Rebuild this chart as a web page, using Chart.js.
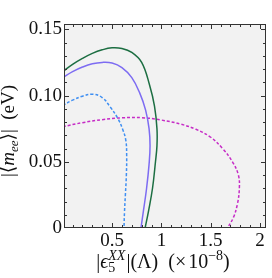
<!DOCTYPE html>
<html>
<head>
<meta charset="utf-8">
<script src="https://cdn.jsdelivr.net/npm/chart.js@4.4.1/dist/chart.umd.min.js"></script>
<style>
  html, body { margin: 0; padding: 0; background: #fff; }
</style>
</head>
<body>
<canvas id="chart" width="272" height="278"></canvas>
<script>
// tick labels
const xTicks = [0.5, 1, 1.5, 2];
const yTicks = [0, 0.05, 0.1, 0.15];

// curves (x in units of 1e-8, y in eV)
const greenX = [0, 0.1, 0.2, 0.3, 0.4, 0.5, 0.6, 0.7, 0.8, 0.88, 0.93, 0.955, 0.955, 0.94, 0.91, 0.87, 0.835];
const greenY = [0.118, 0.1235, 0.128, 0.1318, 0.1345, 0.136, 0.1355, 0.1325, 0.125, 0.108, 0.092, 0.075, 0.062, 0.05, 0.03, 0.013, 0];

const purpleX = [0, 0.1, 0.2, 0.3, 0.4, 0.5, 0.6, 0.7, 0.78, 0.84, 0.875, 0.885, 0.875, 0.85, 0.82, 0.793];
const purpleY = [0.1135, 0.118, 0.1215, 0.124, 0.125, 0.1245, 0.121, 0.1135, 0.102, 0.089, 0.075, 0.062, 0.048, 0.03, 0.014, 0];

const blueX = [0, 0.1, 0.2, 0.3, 0.4, 0.48, 0.56, 0.61, 0.64, 0.648, 0.645, 0.635, 0.626, 0.621];
const blueY = [0.0925, 0.0965, 0.0995, 0.101, 0.0985, 0.0915, 0.0825, 0.074, 0.066, 0.055, 0.04, 0.025, 0.012, 0];

const magentaX = [0, 0.2, 0.4, 0.6, 0.8, 1.0, 1.2, 1.35, 1.5, 1.62, 1.72, 1.78, 1.79, 1.77, 1.73, 1.67];
const magentaY = [0.0765, 0.0795, 0.0818, 0.0832, 0.0833, 0.0815, 0.0783, 0.0745, 0.0685, 0.06, 0.05, 0.04, 0.03, 0.018, 0.008, 0];

const SERIF = "'Liberation Serif', 'DejaVu Serif', serif";

const pts = (xs, ys) => xs.map((x, i) => ({ x: x, y: ys[i] }));

// draws a row of text pieces, sub/sup stacks included, centred on x
function richText(ctx, pieces, cx, y) {
  const fontOf = (p) => (p.it ? "italic " : "") + p.size + "px " + SERIF;
  let total = 0;
  const widths = pieces.map((p) => {
    let w = 0;
    if (p.stack) {
      p.stack.forEach((q) => {
        ctx.font = fontOf(q);
        w = Math.max(w, ctx.measureText(q.t).width);
      });
    } else {
      ctx.font = fontOf(p);
      w = ctx.measureText(p.t).width;
    }
    total += w + (p.gap || 0);
    return w;
  });
  let x = cx - total / 2;
  pieces.forEach((p, i) => {
    const list = p.stack || [p];
    list.forEach((q) => {
      ctx.font = fontOf(q);
      ctx.fillText(q.t, x, y + (q.dy || 0));
    });
    x += widths[i] + (p.gap || 0);
  });
}

const framePlugin = {
  id: "framePlugin",
  beforeDraw(chart) {
    const { ctx, chartArea: a } = chart;
    ctx.save();
    ctx.fillStyle = "#f2f2f2";
    ctx.fillRect(a.left, a.top, a.right - a.left, a.bottom - a.top);
    ctx.restore();
  },
  afterDraw(chart) {
    const { ctx, chartArea: a } = chart;
    const sx = chart.scales.x;
    const sy = chart.scales.y;
    ctx.save();
    ctx.strokeStyle = "#333";
    ctx.lineWidth = 1;
    ctx.strokeRect(Math.round(a.left) + 0.5, Math.round(a.top) + 0.5,
      Math.round(a.right - a.left) - 1, Math.round(a.bottom - a.top) - 1);

    // inward ticks on all four sides
    ctx.beginPath();
    for (let i = 1; i <= 20; i++) {
      const px = Math.round(sx.getPixelForValue(i / 10)) + 0.5;
      const len = i % 5 === 0 ? 5 : 3;
      ctx.moveTo(px, a.bottom);
      ctx.lineTo(px, a.bottom - len);
      ctx.moveTo(px, a.top);
      ctx.lineTo(px, a.top + len);
    }
    for (let i = 1; i <= 15; i++) {
      const py = Math.round(sy.getPixelForValue(i / 100)) + 0.5;
      const len = i % 5 === 0 ? 5 : 3;
      ctx.moveTo(a.left, py);
      ctx.lineTo(a.left + len, py);
      ctx.moveTo(a.right, py);
      ctx.lineTo(a.right - len, py);
    }
    ctx.stroke();

    // axis titles
    ctx.fillStyle = "#111";
    ctx.textBaseline = "alphabetic";
    ctx.textAlign = "left";
    richText(ctx, [
      { t: "|", size: 20 },
      { t: "\u03f5", size: 20, it: true },
      { stack: [{ t: "5", size: 14, dy: 4 }, { t: "XX", size: 14, it: true, dy: -8 }], gap: 1 },
      { t: "|(\u039b)", size: 20, gap: 10 },
      { t: "(\u00d7", size: 20, gap: 2 },
      { t: "10", size: 20 },
      { t: "\u22128", size: 14, dy: -8 },
      { t: ")", size: 20 }
    ], (a.left + a.right) / 2 - 2, 268);

    ctx.translate(14, (a.top + a.bottom) / 2 + 5);
    ctx.rotate(-Math.PI / 2);
    richText(ctx, [
      { t: "|\u27e8", size: 19 },
      { t: "m", size: 19, it: true },
      { t: "ee", size: 13, it: true, dy: 4 },
      { t: "\u27e9|  (eV)", size: 19 }
    ], 0, 0);
    ctx.restore();
  }
};

const lineSet = (label, data, color, dash) => ({
  label: label,
  data: data,
  showLine: true,
  borderColor: color,
  borderWidth: 1.5,
  borderDash: dash,
  pointRadius: 0,
  tension: 0.4,
  fill: false
});

new Chart(document.getElementById("chart"), {
  type: "scatter",
  data: {
    datasets: [
      lineSet("green", pts(greenX, greenY), "#1c6e42", []),
      lineSet("purple", pts(purpleX, purpleY), "#7d6cf2", []),
      lineSet("blue", pts(blueX, blueY), "#3f8ff2", [3, 2]),
      lineSet("magenta", pts(magentaX, magentaY), "#c62cc6", [3, 2])
    ]
  },
  options: {
    responsive: false,
    animation: false,
    layout: { padding: { left: 0, right: 6, top: 24, bottom: 0 } },
    plugins: { legend: { display: false }, tooltip: { enabled: false } },
    scales: {
      x: {
        type: "linear",
        min: 0.013,
        max: 2.06,
        grid: { display: false, drawTicks: false },
        border: { display: false },
        afterBuildTicks: (s) => { s.ticks = xTicks.map((v) => ({ value: v })); },
        afterFit: (s) => { s.height = 50; },
        ticks: {
          padding: 2,
          color: "#111",
          font: { family: SERIF, size: 19 },
          maxRotation: 0,
          callback: (v) => String(v)
        }
      },
      y: {
        type: "linear",
        min: 0,
        max: 0.154,
        grid: { display: false, drawTicks: false },
        border: { display: false },
        afterBuildTicks: (s) => { s.ticks = yTicks.map((v) => ({ value: v })); },
        afterFit: (s) => { s.width = 64; },
        ticks: {
          padding: 2,
          color: "#111",
          font: { family: SERIF, size: 19 },
          callback: (v) => (v === 0 ? "0" : v.toFixed(2))
        }
      }
    }
  },
  plugins: [framePlugin]
});
</script>
</body>
</html>
